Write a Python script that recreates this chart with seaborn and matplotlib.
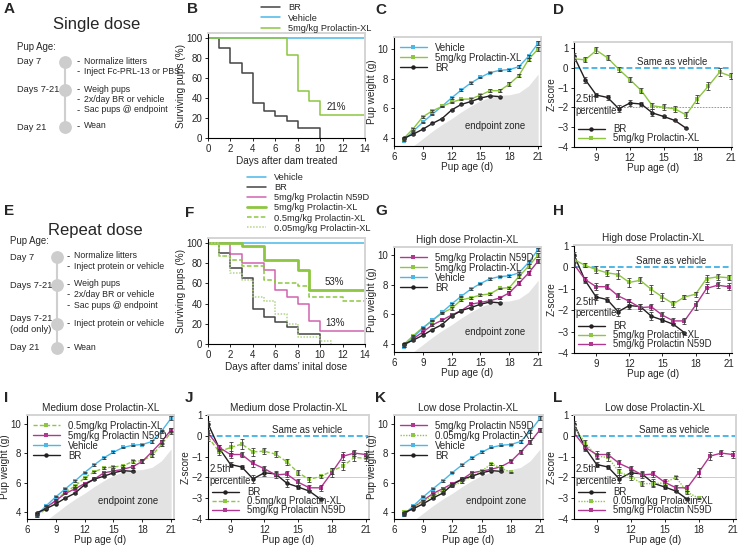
import matplotlib
matplotlib.use('Agg')
import matplotlib.pyplot as plt
import seaborn as sns

sns.set_style('ticks')
plt.rcParams['font.family'] = ['Liberation Sans', 'DejaVu Sans']
plt.rcParams['font.size'] = 7

# ---------------- data ----------------
days = list(range(7, 22))
days_br = list(range(7, 18))
days_005 = list(range(7, 19))

# pup weights (g)
veh_w = [3.8, 4.45, 5.05, 5.6, 6.13, 6.7, 7.22, 7.7, 8.08, 8.4, 8.55, 8.6, 8.8, 9.5, 10.38]
veh_w_err = [0.04, 0.04, 0.04, 0.04, 0.04, 0.05, 0.05, 0.05, 0.05, 0.05, 0.05, 0.06, 0.08, 0.1, 0.12]
br_w = [3.97, 4.25, 4.58, 4.97, 5.3, 5.88, 6.25, 6.45, 6.68, 6.83, 6.78]
br_w_err = [0.05, 0.04, 0.04, 0.04, 0.05, 0.08, 0.05, 0.06, 0.05, 0.05, 0.04]
xl5_w_single = [3.95, 4.62, 5.42, 5.82, 6.12, 6.4, 6.6, 6.62, 6.88, 7.18, 7.18, 7.62, 8.2, 9.28, 10.0]
xl5_w_single_err = [0.05, 0.06, 0.05, 0.05, 0.05, 0.05, 0.05, 0.06, 0.06, 0.1, 0.1, 0.12, 0.12, 0.12, 0.12]
xl5_w = [3.95, 4.55, 5.1, 5.58, 6.08, 6.4, 6.97, 7.12, 7.3, 7.38, 7.75, 7.8, 8.55, 9.25, 10.0]
xl5_w_err = [0.05, 0.05, 0.05, 0.05, 0.05, 0.08, 0.08, 0.08, 0.08, 0.08, 0.06, 0.06, 0.12, 0.12, 0.12]
n59d_w = [3.85, 4.35, 4.8, 5.28, 5.6, 5.95, 6.25, 6.68, 6.8, 6.92, 7.1, 7.45, 8.1, 8.78, 9.6]
n59d_w_err = [0.05, 0.05, 0.05, 0.05, 0.05, 0.05, 0.05, 0.08, 0.08, 0.08, 0.08, 0.12, 0.12, 0.15, 0.15]
xl05_w = [3.75, 4.25, 4.83, 5.38, 5.78, 6.34, 6.76, 7.0, 7.08, 7.15, 7.45, 7.5, 7.85, 8.6, 9.42]
xl05_w_err = [0.05, 0.05, 0.05, 0.05, 0.06, 0.08, 0.06, 0.06, 0.06, 0.06, 0.08, 0.12, 0.1, 0.12, 0.1]
xl005_w = [4.0, 4.35, 4.78, 5.1, 5.5, 5.8, 6.07, 6.45, 6.8, 7.28, 7.0, 6.72]
xl005_w_err = [0.05, 0.05, 0.05, 0.05, 0.05, 0.08, 0.08, 0.1, 0.08, 0.06, 0.06, 0.04]

# endpoint zone outline
zone_x = [8, 9, 10, 11, 12, 13, 14, 15, 16, 17, 18, 19, 20, 21]
zone_y = [3.45, 3.95, 4.45, 4.9, 5.3, 5.75, 6.15, 6.5, 6.75, 6.87, 6.9, 7.05, 7.5, 8.3]

# z-scores
br_z = [0.58, -0.6, -1.38, -1.5, -2.07, -1.78, -1.83, -2.28, -2.46, -2.66, -3.05]
br_z_err = [0.15, 0.15, 0.12, 0.12, 0.18, 0.15, 0.12, 0.18, 0.1, 0.05, 0.03]
xl5_z_single = [0.45, 0.4, 0.88, 0.5, -0.08, -0.6, -1.15, -1.92, -2.0, -2.07, -2.38, -1.58, -0.92, -0.22, -0.43]
xl5_z_single_err = [0.12, 0.12, 0.15, 0.12, 0.12, 0.12, 0.12, 0.15, 0.15, 0.15, 0.15, 0.2, 0.2, 0.2, 0.15]
xl5_z = [0.37, 0.1, -0.1, -0.25, -0.33, -0.7, -0.6, -1.03, -1.38, -1.7, -1.38, -1.25, -0.52, -0.44, -0.48]
xl5_z_err = [0.15, 0.1, 0.15, 0.15, 0.2, 0.2, 0.15, 0.2, 0.2, 0.15, 0.1, 0.12, 0.15, 0.15, 0.12]
n59d_z = [0.14, -0.56, -0.9, -0.9, -1.33, -1.58, -1.88, -1.84, -2.23, -2.5, -2.5, -1.77, -0.98, -0.83, -0.9]
n59d_z_err = [0.12, 0.12, 0.15, 0.12, 0.15, 0.12, 0.15, 0.15, 0.15, 0.12, 0.15, 0.2, 0.2, 0.15, 0.15]
xl05_z = [-0.06, -0.77, -0.56, -0.4, -0.77, -0.74, -0.88, -1.25, -1.77, -2.1, -1.95, -1.7, -1.45, -1.04, -1.08]
xl05_z_err = [0.2, 0.15, 0.25, 0.25, 0.2, 0.15, 0.15, 0.15, 0.12, 0.1, 0.08, 0.15, 0.2, 0.15, 0.12]
xl005_z = [0.45, -0.35, -0.98, -1.04, -1.75, -1.96, -2.3, -2.3, -2.27, -1.99, -2.71, -3.0]
xl005_z_err = [0.12, 0.15, 0.12, 0.15, 0.15, 0.15, 0.12, 0.12, 0.12, 0.08, 0.08, 0.03]

# survival (%)
surv_days_br = [0, 1, 2, 3, 4, 5, 6, 7, 8, 10]
surv_br = [100, 90, 75, 65, 35, 27, 22, 17, 10, 0]
surv_days_veh = [0, 14]
surv_veh = [100, 100]
surv_days_xl5_single = [0, 7, 8, 9, 10, 14]
surv_xl5_single = [100, 83, 47, 37, 23, 23]
surv_days_n59d = [0, 2, 3, 5, 6, 7, 8, 9, 10, 14]
surv_n59d = [100, 89, 80, 73, 53, 47, 40, 23, 13, 13]
surv_days_xl5 = [0, 3, 5, 8, 9, 14]
surv_xl5 = [100, 97, 83, 73, 53, 53]
surv_days_xl05 = [0, 1, 2, 3, 5, 6, 8, 9, 12, 14]
surv_xl05 = [100, 87, 83, 77, 63, 60, 57, 47, 43, 43]
surv_days_xl005 = [0, 1, 2, 3, 4, 5, 6, 7, 8, 10, 11]
surv_xl005 = [100, 87, 70, 63, 47, 43, 30, 20, 7, 3, 0]

# colours
BLUE = '#4cb8e8'
GREEN = '#8dc641'
LGREEN = '#b3d68a'
BLACK = '#231f20'
MAG = '#b0388f'
PINK = '#cf63b0'
GREY_BR = '#444444'

TICK = 7
LAB = 7.2
LEG = 6.9

W, H = 738, 545
fig = plt.figure(figsize=(W / 100, H / 100), dpi=100)

# background axes in pixel coords for panel letters and timelines
bg = fig.add_axes([0, 0, 1, 1], zorder=-5)
bg.set_xlim(0, W)
bg.set_ylim(H, 0)
bg.axis('off')


def rect(l, t, r, b):
    return [l / W, 1 - b / H, (r - l) / W, (b - t) / H]


def style(ax):
    for s in ['top', 'right']:
        ax.spines[s].set_color('#d4d4d4')
        ax.spines[s].set_linewidth(1.4)
    for s in ['left', 'bottom']:
        ax.spines[s].set_color('black')
        ax.spines[s].set_linewidth(0.8)
    ax.tick_params(labelsize=TICK, length=2.5, width=0.7, pad=1.5)


def series(ax, x, y, err, color, label, marker='o', ls='-'):
    sns.lineplot(x=x, y=y, ax=ax, color=color, label=label, marker=marker,
                 markersize=3.2, markeredgewidth=0, linewidth=1, linestyle=ls)
    ax.errorbar(x, y, yerr=err, fmt='none', ecolor='#3a3a3a',
                elinewidth=0.6, capsize=1.6, capthick=0.6, zorder=3)


def weight_panel(ax, lines, ylim, title=None):
    ax.fill_between(zone_x, 0, zone_y, color='#e3e3e3', lw=0, zorder=0)
    ax.text(16.5, 4.8, 'endpoint zone', ha='center', va='center', fontsize=LEG)
    for ln in lines:
        series(ax, *ln)
    ax.set_xlim(6, 21.3)
    ax.set_ylim(*ylim)
    ax.set_xticks([6, 9, 12, 15, 18, 21])
    ax.set_yticks([4, 6, 8, 10])
    ax.set_xlabel('Pup age (d)', fontsize=LAB, labelpad=0)
    ax.set_ylabel('Pup weight (g)', fontsize=LAB, labelpad=0.5)
    if title:
        ax.set_title(title, fontsize=LAB, pad=3)
    ax.legend(loc='upper left', frameon=False, fontsize=LEG, handlelength=2.8,
              labelspacing=0.0, borderaxespad=0.2, handletextpad=0.9)
    style(ax)


def z_panel(ax, lines, ylim, xmax, title=None, dashed_pct=False):
    ax.axhline(0, color=BLUE, ls=(0, (3, 1.5)), lw=1.4, zorder=0)
    if dashed_pct:
        ax.axhline(-1.96, color='#888888', ls=(0, (2, 1.5)), lw=0.6, zorder=0)
    else:
        ax.axhline(-1.96, color='#c9c9e6', lw=0.7, zorder=0)
    ax.text(15.8, 0.06, 'Same as vehicle', ha='center', va='bottom', fontsize=LEG)
    ax.text(7.15, -1.88, '2.5th\npercentile', ha='left', va='center', fontsize=LEG,
            linespacing=1.15)
    for ln in lines:
        series(ax, *ln)
    ax.set_xlim(7, xmax)
    ax.set_ylim(*ylim)
    ax.set_xticks([9, 12, 15, 18, 21])
    ax.set_yticks([-4, -3, -2, -1, 0, 1])
    ax.set_xlabel('Pup age (d)', fontsize=LAB, labelpad=0)
    ax.set_ylabel('Z-score', fontsize=LAB, labelpad=0.5)
    if title:
        ax.set_title(title, fontsize=LAB, pad=3)
    ax.legend(loc='lower left', frameon=False, fontsize=LEG, handlelength=2.8,
              labelspacing=-0.1, borderaxespad=0.0, handletextpad=0.9)
    style(ax)


def surv_line(ax, x, y, color, label, lw=1.1, ls='-'):
    sns.lineplot(x=x, y=y, ax=ax, color=color, label=label, drawstyle='steps-post',
                 linewidth=lw, linestyle=ls)


def surv_axes(ax, xlabel):
    ax.set_xlim(0, 14)
    ax.set_ylim(0, 105)
    ax.set_xticks(range(0, 15, 2))
    ax.set_yticks(range(0, 101, 20))
    ax.set_xlabel(xlabel, fontsize=LAB, labelpad=2)
    ax.set_ylabel('Surviving pups (%)', fontsize=LAB, labelpad=0.5)
    style(ax)


# ---------------- A / E timelines ----------------
def timeline(x0, xc, xt, title_xy, steps, title):
    bg.text(title_xy[0], title_xy[1], title, ha='center', va='center', fontsize=12)
    ys = [s[0] for s in steps]
    bg.plot([xc, xc], [ys[0], ys[-1]], color='#cfcfcf', lw=1.5, zorder=1)
    for y, left, items in steps:
        bg.scatter([xc], [y], s=85, color='#cdcdcd', zorder=2, lw=0)
        bg.text(x0, y, left, ha='left', va='center', fontsize=6.7, linespacing=1.25)
        for i, it in enumerate(items):
            yy = y - 1 + i * 10.5
            bg.text(xt, yy, '-', ha='left', va='center', fontsize=7)
            bg.text(xt + 6.5, yy, it, ha='left', va='center', fontsize=6.3)


bg.text(17, 47, 'Pup Age:', ha='left', va='center', fontsize=6.9)
timeline(17, 65, 77, (97, 25), [
    (62, 'Day 7', ['Normalize litters', 'Inject Fc-PRL-13 or PBS']),
    (90, 'Days 7-21', ['Weigh pups', '2x/day BR or vehicle', 'Sac pups @ endpoint']),
    (127, 'Day 21', ['Wean']),
], 'Single dose')

bg.text(10, 241, 'Pup Age:', ha='left', va='center', fontsize=6.9)
timeline(10, 57, 67, (95, 230), [
    (257, 'Day 7', ['Normalize litters', 'Inject protein or vehicle']),
    (285, 'Days 7-21', ['Weigh pups', '2x/day BR or vehicle', 'Sac pups @ endpoint']),
    (324, 'Days 7-21\n(odd only)', ['Inject protein or vehicle']),
    (348, 'Day 21', ['Wean']),
], 'Repeat dose')

# panel letters
for letter, (x, y) in {'A': (4, 9), 'B': (187, 9), 'C': (375, 10), 'D': (553, 10),
                       'E': (4, 211), 'F': (185, 213), 'G': (375, 211), 'H': (553, 211),
                       'I': (4, 398), 'J': (185, 398), 'K': (375, 398), 'L': (553, 398)}.items():
    bg.text(x, y, letter, ha='left', va='center', fontsize=11, fontweight='bold')

# ---------------- B ----------------
axB = fig.add_axes(rect(208, 33, 365, 138))
surv_line(axB, surv_days_br, surv_br, GREY_BR, 'BR')
surv_line(axB, surv_days_veh, surv_veh, BLUE, 'Vehicle')
surv_line(axB, surv_days_xl5_single, surv_xl5_single, GREEN, '5mg/kg Prolactin-XL')
axB.text(11.4, 26, '21%', ha='center', va='bottom', fontsize=TICK)
surv_axes(axB, 'Days after dam treated')
axB.legend(loc='lower left', bbox_to_anchor=(0.34, 1.0), frameon=False, fontsize=6.7,
           handlelength=2.0, labelspacing=0.15, borderaxespad=0, borderpad=0,
           handletextpad=0.9)

# ---------------- C ----------------
axC = fig.add_axes(rect(394, 37, 541, 146))
weight_panel(axC, [
    (days, veh_w, veh_w_err, BLUE, 'Vehicle', 's'),
    (days, xl5_w_single, xl5_w_single_err, GREEN, '5mg/kg Prolactin-XL', 's'),
    (days_br, br_w, br_w_err, BLACK, 'BR', 'o'),
], (3.45, 10.8))

# ---------------- D ----------------
axD = fig.add_axes(rect(574, 42, 732, 147))
z_panel(axD, [
    (days_br, br_z, br_z_err, BLACK, 'BR', 'o'),
    (days, xl5_z_single, xl5_z_single_err, GREEN, '5mg/kg Prolactin-XL', 's'),
], (-4, 1.3), 21.1, dashed_pct=True)

# ---------------- F ----------------
axF = fig.add_axes(rect(208, 238, 365, 344))
surv_line(axF, surv_days_veh, surv_veh, BLUE, 'Vehicle')
surv_line(axF, surv_days_br, surv_br, GREY_BR, 'BR')
surv_line(axF, surv_days_n59d, surv_n59d, PINK, '5mg/kg Prolactin N59D')
surv_line(axF, surv_days_xl5, surv_xl5, GREEN, '5mg/kg Prolactin-XL', lw=2)
surv_line(axF, surv_days_xl05, surv_xl05, GREEN, '0.5mg/kg Prolactin-XL', ls=(0, (3, 1.5)))
surv_line(axF, surv_days_xl005, surv_xl005, LGREEN, '0.05mg/kg Prolactin-XL', ls=(0, (1, 1)))
axF.text(11.3, 56, '53%', ha='center', va='bottom', fontsize=TICK)
axF.text(11.3, 16, '13%', ha='center', va='bottom', fontsize=TICK)
surv_axes(axF, 'Days after dams\u2019 inital dose')
axF.legend(loc='lower left', bbox_to_anchor=(0.25, 1.05), frameon=False, fontsize=6.7,
           handlelength=2.0, labelspacing=0.12, borderaxespad=0, borderpad=0,
           handletextpad=0.9)

# ---------------- G ----------------
axG = fig.add_axes(rect(394, 247, 541, 352))
weight_panel(axG, [
    (days, n59d_w, n59d_w_err, MAG, '5mg/kg Prolactin N59D', 's'),
    (days, xl5_w, xl5_w_err, GREEN, '5mg/kg Prolactin-XL', 's'),
    (days, veh_w, veh_w_err, BLUE, 'Vehicle', 's'),
    (days_br, br_w, br_w_err, BLACK, 'BR', 'o'),
], (3.45, 10.55), 'High dose Prolactin-XL')

# ---------------- H ----------------
axH = fig.add_axes(rect(574, 245, 732, 353))
z_panel(axH, [
    (days_br, br_z, br_z_err, BLACK, 'BR', 'o'),
    (days, xl5_z, xl5_z_err, GREEN, '5mg/kg Prolactin-XL', 's'),
    (days, n59d_z, n59d_z_err, MAG, '5mg/kg Prolactin N59D', 's'),
], (-4, 1.05), 21.3, 'High dose Prolactin-XL')

# ---------------- I ----------------
axI = fig.add_axes(rect(27, 415, 174, 519))
weight_panel(axI, [
    (days, xl05_w, xl05_w_err, GREEN, '0.5mg/kg Prolactin-XL', 's', (0, (3, 1.5))),
    (days, n59d_w, n59d_w_err, MAG, '5mg/kg Prolactin N59D', 's'),
    (days, veh_w, veh_w_err, BLUE, 'Vehicle', 's'),
    (days_br, br_w, br_w_err, BLACK, 'BR', 'o'),
], (3.55, 10.6), 'Medium dose Prolactin-XL')

# ---------------- J ----------------
axJ = fig.add_axes(rect(208, 415, 369, 519))
z_panel(axJ, [
    (days_br, br_z, br_z_err, BLACK, 'BR', 'o'),
    (days, xl05_z, xl05_z_err, GREEN, '0.5mg/kg Prolactin-XL', 's', (0, (3, 1.5))),
    (days, n59d_z, n59d_z_err, MAG, '5mg/kg Prolactin N59D', 's'),
], (-4, 1.0), 21.3, 'Medium dose Prolactin-XL')

# ---------------- K ----------------
axK = fig.add_axes(rect(394, 415, 543, 519))
weight_panel(axK, [
    (days, n59d_w, n59d_w_err, MAG, '5mg/kg Prolactin N59D', 's'),
    (days_005, xl005_w, xl005_w_err, GREEN, '0.05mg/kg Prolactin-XL', 's', (0, (1, 1))),
    (days, veh_w, veh_w_err, BLUE, 'Vehicle', 's'),
    (days_br, br_w, br_w_err, BLACK, 'BR', 'o'),
], (3.55, 10.6), 'Low dose Prolactin-XL')

# ---------------- L ----------------
axL = fig.add_axes(rect(574, 415, 736, 519))
z_panel(axL, [
    (days_br, br_z, br_z_err, BLACK, 'BR', 'o'),
    (days_005, xl005_z, xl005_z_err, GREEN, '0.05mg/kg Prolactin-XL', 's', (0, (1, 1))),
    (days, n59d_z, n59d_z_err, MAG, '5mg/kg Prolactin N59D', 's'),
], (-4, 1.0), 21.3, 'Low dose Prolactin-XL')

fig.savefig('out.png', dpi=100)
